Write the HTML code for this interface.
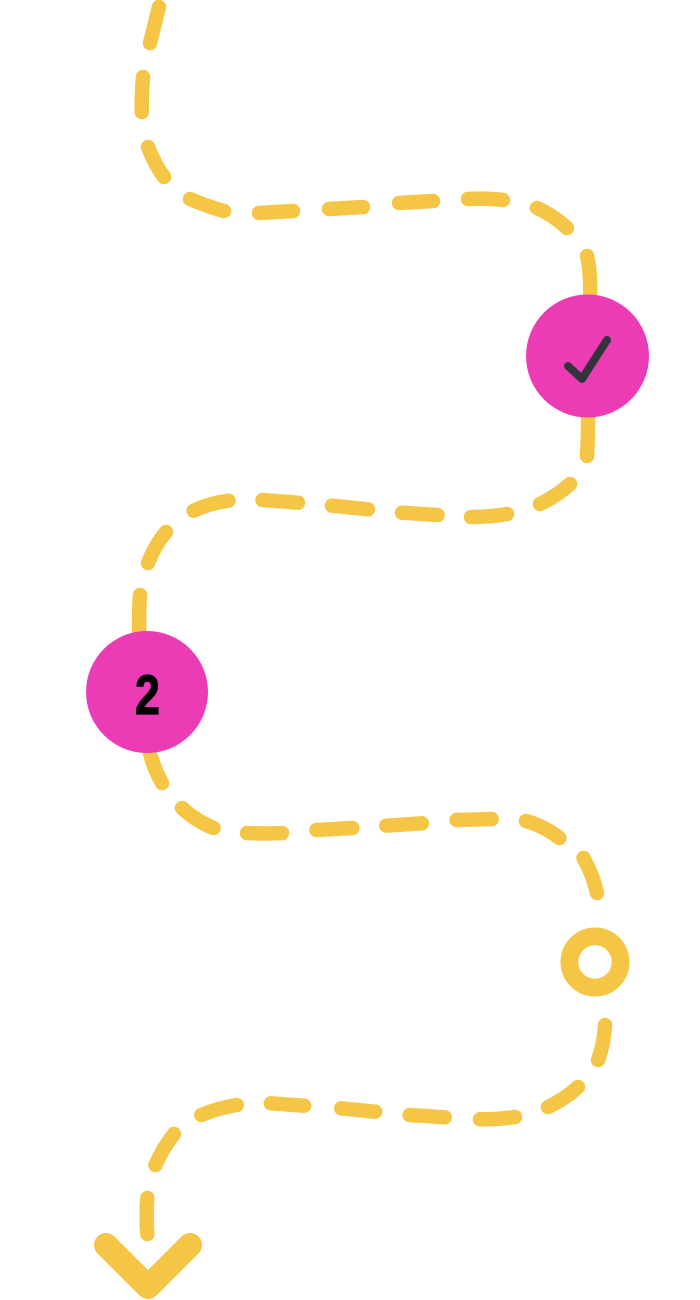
<!DOCTYPE html>
<html>
<head>
<meta charset="utf-8">
<style>
  html, body { margin: 0; padding: 0; background: #ffffff; }
  body { width: 700px; height: 1300px; overflow: hidden; }
  svg { display: block; }
</style>
</head>
<body>
<svg width="700" height="1300" viewBox="0 0 700 1300" xmlns="http://www.w3.org/2000/svg">
  <g fill="none" stroke="#F5C645" stroke-width="14.5" stroke-linecap="round" stroke-linejoin="round">
    <!-- Section A -->
    <path d="M159 7 L150 43"/>
    <path d="M143 77 Q141.5 93 141.7 112"/>
    <path d="M148 147 Q155 165 164 177"/>
    <path d="M190 199 Q206 206 224 211"/>
    <path d="M259 213 L293 211"/>
    <path d="M329 209 L363 207"/>
    <path d="M399 203 L433 201"/>
    <path d="M468 199 Q487 198 503 200"/>
    <path d="M537 208 Q553 215 567 228"/>
    <path d="M587 256 Q591 272 590 300"/>
    <!-- Section B -->
    <path d="M588 405 Q588.5 432 587 456"/>
    <path d="M570 484 Q557 496 540 504"/>
    <path d="M507 514 Q490 517 471 517"/>
    <path d="M437.5 515 L402 512.7"/>
    <path d="M368 509.3 L332 505.7"/>
    <path d="M298 502.7 L262.5 500"/>
    <path d="M228.6 500.7 Q210 503 193.6 510.7"/>
    <path d="M166 532 Q155 545 148 563"/>
    <path d="M140 595 Q138.5 615 139.5 640"/>
    <!-- Section C -->
    <path d="M148 745 Q152 765 162 783"/>
    <path d="M182 808 Q196 821 213.5 828"/>
    <path d="M247 833 Q265 834 282 833"/>
    <path d="M316.4 830 L352.3 828"/>
    <path d="M386.3 825.7 L421.8 823.3"/>
    <path d="M456.6 820 L491.7 819"/>
    <path d="M526 821 Q544 826 559.4 838"/>
    <path d="M583.5 858 Q593 875 597 893"/>
    <!-- Section D -->
    <path d="M605 1025 Q604 1044 598 1060"/>
    <path d="M578 1087 Q565 1099 548 1107"/>
    <path d="M515 1117 Q498 1119.5 480 1119.3"/>
    <path d="M444.8 1117.3 L409.6 1115"/>
    <path d="M375.2 1111.7 L341.2 1108.3"/>
    <path d="M304.2 1105.7 L270.9 1103.3"/>
    <path d="M236.8 1105 Q218 1108 201.3 1115"/>
    <path d="M174 1134 Q163 1148 155.4 1165"/>
    <path d="M147.3 1198 Q146 1216 147.3 1234"/>
  </g>

  <!-- Open ring -->
  <circle cx="595" cy="962" r="25.6" fill="none" stroke="#F5C645" stroke-width="17.8"/>

  <!-- Chevron arrow -->
  <path d="M106 1245 L148 1287 L190 1245" fill="none" stroke="#F5C645" stroke-width="24" stroke-linecap="round" stroke-linejoin="round"/>

  <!-- Check circle -->
  <circle cx="587.5" cy="356" r="61.5" fill="#EB3CB6"/>
  <path d="M568 366 L582 379 L607 340" fill="none" stroke="#32353B" stroke-width="8" stroke-linecap="round" stroke-linejoin="round"/>

  <!-- Number circle -->
  <circle cx="147" cy="692" r="61" fill="#EB3CB6"/>
  <text transform="translate(147.5,714) scale(0.8,1)" x="0" y="0" text-anchor="middle" font-family="'Liberation Sans', sans-serif" font-weight="bold" font-size="56" fill="#000000" stroke="#000000" stroke-width="1.2">2</text>
</svg>
</body>
</html>
